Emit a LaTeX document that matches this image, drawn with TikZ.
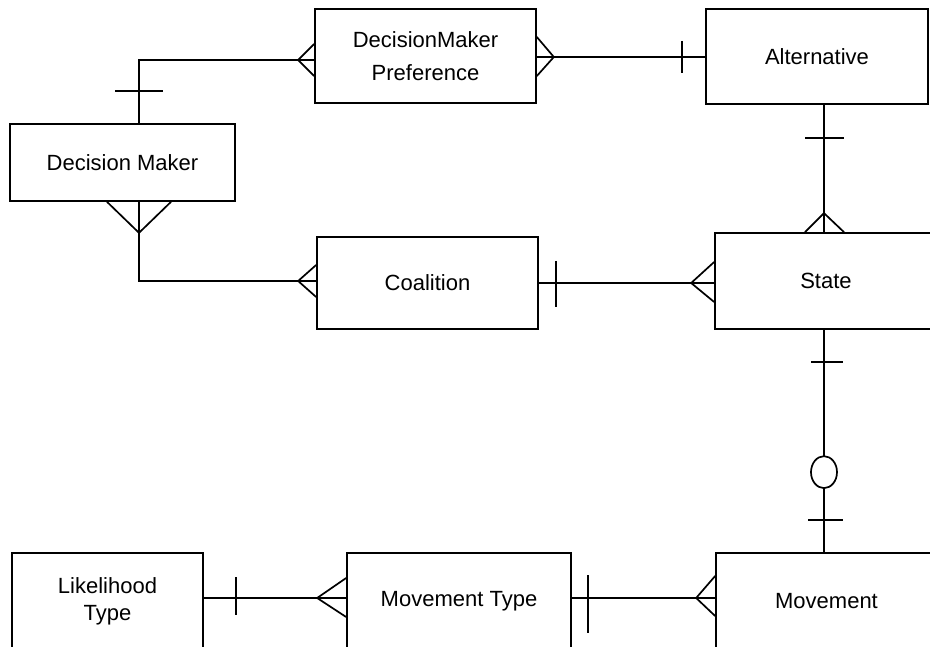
\documentclass[tikz,border=0pt]{standalone}
\usepackage{fontspec}
\setmainfont{Liberation Sans}
\usetikzlibrary{calc}
\begin{document}
\begin{tikzpicture}[x=1pt,y=-1pt,
  entity/.style={draw, line width=1.7pt, rectangle, inner sep=0pt, align=center,
    font=\fontsize{22}{27}\selectfont},
  link/.style={line width=1.7pt},
  tick/.style={line width=1.7pt}
]
\useasboundingbox (0,0) rectangle (930,647);
\clip (0,0) rectangle (930,647);

% entities
\node[entity, minimum width=221pt, minimum height=94pt] (dmp) at (425.5,56) {DecisionMaker\\[6pt]Preference};
\node[entity, minimum width=222pt, minimum height=95pt] (alt) at (817,56.5) {Alternative};
\node[entity, minimum width=225pt, minimum height=77pt] (dm) at (122.5,162.5) {Decision Maker};
\node[entity, minimum width=221pt, minimum height=92pt] (coal) at (427.5,283) {Coalition};
\node[entity, minimum width=222pt, minimum height=96pt] (state) at (826,281) {State};
\node[entity, minimum width=191pt, minimum height=96pt] (lik) at (107.5,601) {Likelihood\\Type};
\node[entity, minimum width=224pt, minimum height=96pt] (mt) at (459,601) {Movement Type};
\node[entity, minimum width=221pt, minimum height=96pt] (mov) at (826.5,601) {Movement};

% Decision Maker -- DecisionMaker Preference
\coordinate (a1) at ([xshift=16.5pt]dm.north);
\coordinate (b1) at ([yshift=-4pt]dmp.west);
\draw[link] (a1) |- (b1);
\draw[tick] ($(a1)+(-24,-32)$) -- ($(a1)+(24,-32)$);
\draw[tick] ($(b1)+(0,-16)$) -- ($(b1)+(-16,0)$) -- ($(b1)+(0,16)$);

% DecisionMaker Preference -- Alternative
\coordinate (a2) at ([yshift=-1pt]dmp.east);
\coordinate (b2) at (alt.west |- a2);
\draw[link] (a2) -- (b2);
\draw[tick] ($(a2)+(0,-20)$) -- ($(a2)+(17,0)$) -- ($(a2)+(0,19)$);
\draw[tick] ($(b2)+(-23,-16)$) -- ($(b2)+(-23,16)$);

% Alternative -- State
\coordinate (a3) at ([xshift=7pt]alt.south);
\coordinate (b3) at (state.north -| a3);
\draw[link] (a3) -- (b3);
\draw[tick] ($(a3)+(-19,33)$) -- ($(a3)+(20,33)$);
\draw[tick] ($(b3)+(-19,0)$) -- ($(b3)+(0,-19)$) -- ($(b3)+(20,0)$);

% Decision Maker -- Coalition
\coordinate (a4) at (a1 |- dm.south);
\coordinate (b4) at ([yshift=2pt]coal.west);
\draw[link] (a4) |- (b4);
\draw[tick] ($(a4)+(-32,0)$) -- ($(a4)+(0,31)$) -- ($(a4)+(32,0)$);
\draw[tick] ($(b4)+(0,-16)$) -- ($(b4)+(-18,0)$) -- ($(b4)+(0,16)$);

% Coalition -- State
\coordinate (a5) at (coal.east);
\coordinate (b5) at (state.west |- a5);
\draw[link] (a5) -- (b5);
\draw[tick] ($(a5)+(17,-22)$) -- ($(a5)+(17,24)$);
\draw[tick] ($(b5)+(0,-21)$) -- ($(b5)+(-23,0)$) -- ($(b5)+(0,19)$);

% State -- Movement
\coordinate (a6) at (b3 |- state.south);
\coordinate (b6) at (mov.north -| a6);
\draw[link] (a6) -- (b6);
\draw[tick] ($(a6)+(-13,32)$) -- ($(a6)+(19,32)$);
\draw[tick] ($(b6)+(-16,-32)$) -- ($(b6)+(19,-32)$);
\draw[tick, fill=white] ($(b6)+(0,-80)$) ellipse [x radius=13pt, y radius=16pt];

% Likelihood Type -- Movement Type
\coordinate (a7) at ([yshift=3pt]lik.east);
\coordinate (b7) at (mt.west |- a7);
\draw[link] (a7) -- (b7);
\draw[tick] ($(a7)+(32,-21)$) -- ($(a7)+(32,17)$);
\draw[tick] ($(b7)+(0,-20)$) -- ($(b7)+(-29,0)$) -- ($(b7)+(0,19)$);

% Movement Type -- Movement
\coordinate (a8) at ([yshift=3pt]mt.east);
\coordinate (b8) at (mov.west |- a8);
\draw[link] (a8) -- (b8);
\draw[tick] ($(a8)+(16,-23)$) -- ($(a8)+(16,35)$);
\draw[tick] ($(b8)+(0,-22)$) -- ($(b8)+(-19,0)$) -- ($(b8)+(0,18)$);
\end{tikzpicture}
\end{document}
